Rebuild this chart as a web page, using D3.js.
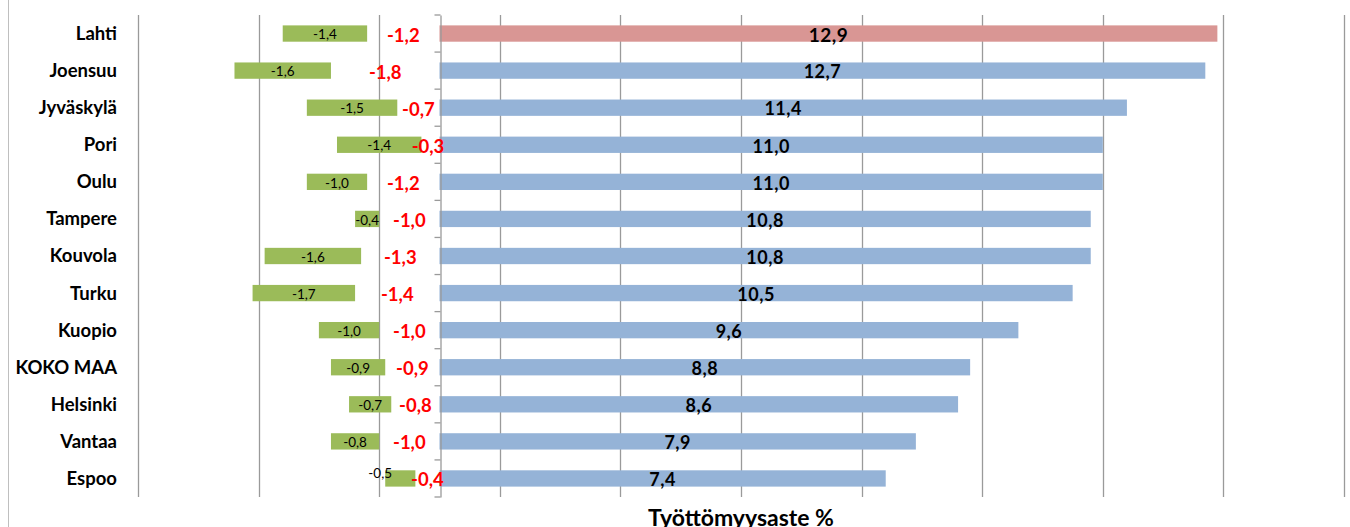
<!DOCTYPE html>
<html><head><meta charset="utf-8">
<script src="https://cdn.jsdelivr.net/npm/d3@7"></script>
<style>body{margin:0;background:#fff}svg{display:block;font-family:Lato,"Open Sans",sans-serif}</style>
</head><body><svg id="c" width="1350" height="527"></svg>
<script>
const cities = ["Lahti","Joensuu","Jyväskylä","Pori","Oulu","Tampere","Kouvola","Turku","Kuopio","KOKO MAA","Helsinki","Vantaa","Espoo"];
const rate = [12.9,12.7,11.4,11.0,11.0,10.8,10.8,10.5,9.6,8.8,8.6,7.9,7.4];
const changeRed = [-1.2,-1.8,-0.7,-0.3,-1.2,-1.0,-1.3,-1.4,-1.0,-0.9,-0.8,-1.0,-0.4];
const changeGreen = [-1.4,-1.6,-1.5,-1.4,-1.0,-0.4,-1.6,-1.7,-1.0,-0.9,-0.7,-0.8,-0.5];
const gridTicks = [-5,-3,-1,1,3,5,7,9,11,13,15];
const highlight = "Lahti";
const greenLabelAbove = ["Espoo"];
const axisTitle = "Työttömyysaste %";

const loc = d3.formatLocale({decimal:",",thousands:" ",grouping:[3],currency:["","€"],minus:"-"});
const fmt = loc.format(".1f");

const svg = d3.select("#c");
const x = d3.scaleLinear().domain([-5,15]).range([138,1344]);
const y = d3.scaleBand().domain(cities).range([15,497]).paddingInner(0.56).paddingOuter(0.28);
const cy = c => y(c)+y.bandwidth()/2;

svg.append("line").attr("x1",8.5).attr("x2",8.5).attr("y1",0).attr("y2",527).attr("stroke","#bfbfbf").attr("stroke-width",1);

svg.append("g").selectAll("line").data(gridTicks).join("line")
  .attr("x1",d=>Math.round(x(d))+0.5).attr("x2",d=>Math.round(x(d))+0.5)
  .attr("y1",15).attr("y2",497).attr("stroke","#9a9a9a").attr("stroke-width",1.3);

const rows = cities.map((c,i)=>({c,rate:rate[i],red:changeRed[i],green:changeGreen[i]}));

svg.append("g").selectAll("rect").data(rows).join("rect")
  .attr("x",d=>x(d.red+d.green)).attr("width",d=>x(0)-x(-Math.abs(d.green)))
  .attr("y",d=>y(d.c)).attr("height",y.bandwidth()).attr("fill","#9BBB59");

svg.append("g").selectAll("rect").data(rows).join("rect")
  .attr("x",x(0)).attr("width",d=>x(d.rate)-x(0))
  .attr("y",d=>y(d.c)).attr("height",y.bandwidth())
  .attr("fill",d=>d.c===highlight?"#D99694":"#95B3D7");

const ax = svg.append("g").attr("transform",`translate(${Math.round(x(0))+0.5},0)`)
  .call(d3.axisLeft(y).tickSize(0).tickFormat(""));
ax.select(".domain").attr("stroke","#9a9a9a").attr("stroke-width",1.3);
const bounds = d3.range(cities.length+1).map(i=>y.range()[0]+i*y.step());
ax.selectAll(".bt").data(bounds).join("line").attr("class","bt")
  .attr("x1",-6).attr("x2",0).attr("y1",d=>d).attr("y2",d=>d).attr("stroke","#9a9a9a").attr("stroke-width",1.3);

svg.append("g").selectAll("text").data(rows).join("text")
  .attr("x",117).attr("y",d=>cy(d.c)).attr("dy","0.35em")
  .attr("text-anchor","end").attr("font-weight","bold").attr("font-size",18.5).attr("fill","#000")
  .text(d=>d.c);

svg.append("g").selectAll("text").data(rows).join("text")
  .attr("x",d=>greenLabelAbove.includes(d.c)? x(d.red+d.green)-5 : x(d.red+d.green/2))
  .attr("y",d=>cy(d.c)+1 - (greenLabelAbove.includes(d.c)?6:0)).attr("dy","0.35em")
  .attr("text-anchor","middle").attr("font-size",13.5).attr("fill","#000")
  .text(d=>fmt(d.green));

svg.append("g").selectAll("text").data(rows).join("text")
  .attr("x",d=>Math.min(x(d.red/2),428)).attr("y",d=>cy(d.c)+1.5).attr("dy","0.35em")
  .attr("text-anchor","middle").attr("font-weight","bold").attr("font-size",18.5).attr("fill","#FF0000")
  .text(d=>fmt(d.red));

svg.append("g").selectAll("text").data(rows).join("text")
  .attr("x",d=>x(d.rate/2)).attr("y",d=>cy(d.c)+1.5).attr("dy","0.35em")
  .attr("text-anchor","middle").attr("font-weight","bold")
  .attr("font-size",d=>d.c===highlight?19:18).attr("letter-spacing",0.5).attr("fill","#000")
  .text(d=>fmt(d.rate));

svg.append("text").attr("x",(x.range()[0]+x.range()[1])/2).attr("y",526)
  .attr("text-anchor","middle").attr("font-weight","bold").attr("font-size",23).text(axisTitle);
</script></body></html>
